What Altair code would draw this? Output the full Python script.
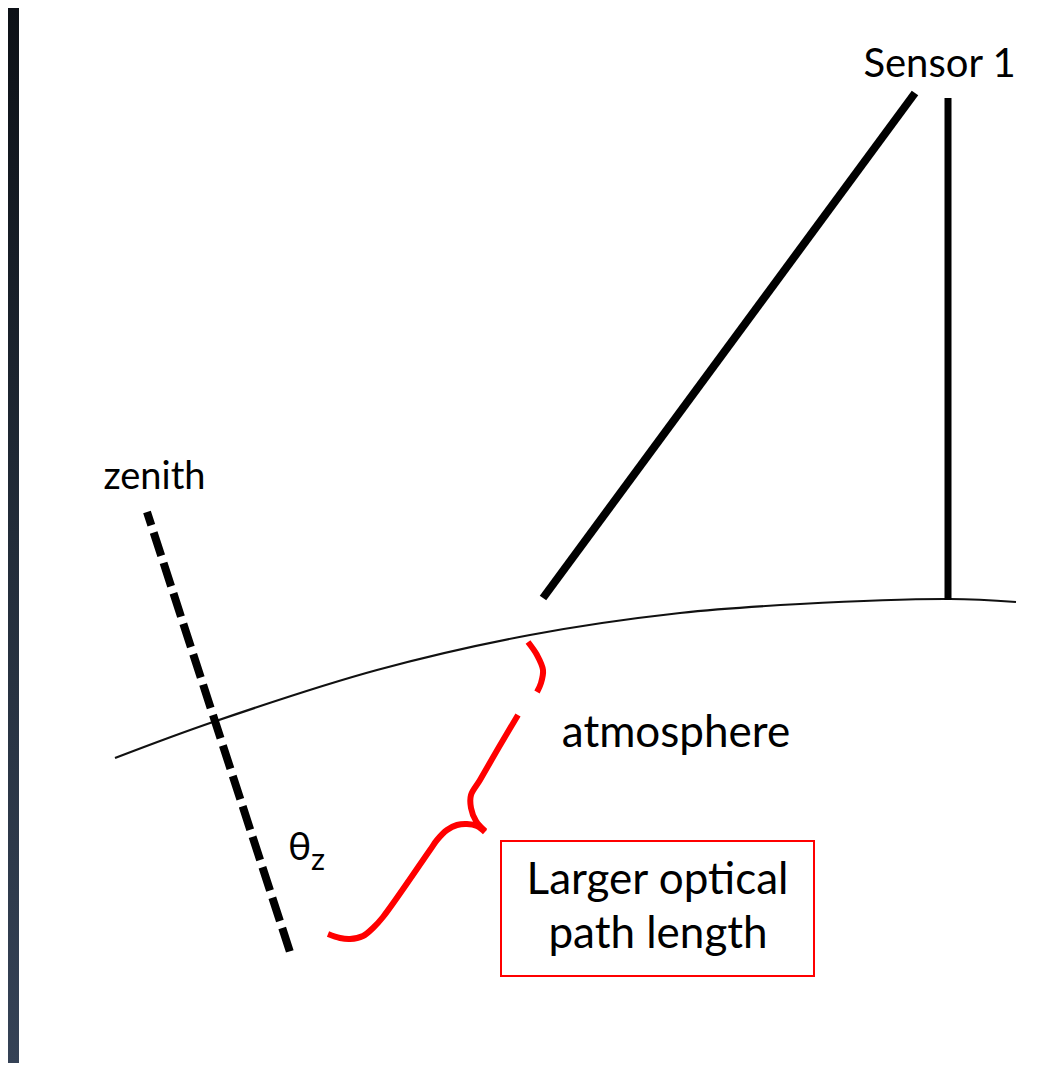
import altair as alt
import pandas as pd

# ---- canvas (reference pixel coordinates) ----
W, H = 1048, 1055
X_DOMAIN = [8, 1056]
Y_DOMAIN = [8, 1063]

# ---- ground / atmosphere boundary curve ----
earth_x = [115, 213, 377, 530, 680, 800, 950, 1016]
earth_y = [758, 722, 670, 635, 613, 604, 599, 602]

# ---- sensor view lines ----
sensor_x1 = [915, 948]
sensor_y1 = [93, 98]
sensor_x2 = [543, 948]
sensor_y2 = [598, 600]
sensor_w = [8, 7]

# ---- zenith dashed line ----
zen_x1, zen_y1, zen_x2, zen_y2 = [147], [512], [290], [952]

# ---- red brace (three strokes) ----
brace_seg = ["a"] * 5 + ["b"] * 7 + ["c"] * 13
brace_x = [528, 537, 543, 541, 537,
           518, 499, 480, 471, 471, 476, 485,
           485, 477, 467, 457, 447, 437, 430, 383, 373, 363, 350, 340, 328]
brace_y = [642, 655, 670, 683, 692,
           715, 747, 780, 795, 808, 821, 831,
           832, 826, 824, 825, 830, 840, 850, 917, 928, 936, 939, 938, 934]

# ---- red box ----
box_x1, box_y1, box_x2, box_y2 = [501], [841], [814], [976]

# ---- labels ----
lab_text = ["Sensor 1", "zenith", "atmosphere", "Larger optical", "path length"]
lab_x = [939.5, 154.5, 676, 657.5, 658]
lab_y = [77, 489, 747, 894, 948]
lab_size = [40, 38, 44, 44, 44]

sym_text = ["θ", "z"]
sym_x = [288, 311]
sym_y = [860, 870]
sym_size = [39, 31]

xs = alt.Scale(domain=X_DOMAIN, nice=False, zero=False)
ys = alt.Scale(domain=Y_DOMAIN, nice=False, zero=False, reverse=True)


def X(f):
    return alt.X(f"{f}:Q", scale=xs, axis=None)


def Y(f):
    return alt.Y(f"{f}:Q", scale=ys, axis=None)


# background strip
strip = alt.Chart(pd.DataFrame({"x": [8], "x2": [19], "y": [8], "y2": [1063]})).mark_rect(
    fill=alt.LinearGradient(
        gradient="linear",
        stops=[alt.GradientStop(color="#0d1117", offset=0),
               alt.GradientStop(color="#222c39", offset=0.5),
               alt.GradientStop(color="#354256", offset=1)],
        x1=0, x2=0, y1=0, y2=1),
    stroke=None,
).encode(x=X("x"), x2="x2", y=Y("y"), y2="y2")

earth = alt.Chart(pd.DataFrame({"x": earth_x, "y": earth_y})).mark_line(
    color="#111111", strokeWidth=2.2, interpolate="catmull-rom"
).encode(x=X("x"), y=Y("y"), order="x:Q")

sensors = alt.Chart(pd.DataFrame({"x": sensor_x1, "y": sensor_y1, "x2": sensor_x2,
                                  "y2": sensor_y2, "w": sensor_w})).mark_rule(
    color="black", strokeCap="butt"
).encode(x=X("x"), y=Y("y"), x2="x2", y2="y2", size=alt.Size("w:Q", scale=None, legend=None))

zenith = alt.Chart(pd.DataFrame({"x": zen_x1, "y": zen_y1, "x2": zen_x2, "y2": zen_y2})).mark_rule(
    color="black", strokeWidth=8, strokeDash=[24.5, 7.5], strokeDashOffset=10.5, strokeCap="butt"
).encode(x=X("x"), y=Y("y"), x2="x2", y2="y2")

brace_df = pd.DataFrame({"x": brace_x, "y": brace_y, "seg": brace_seg,
                         "i": list(range(len(brace_x)))})
brace = alt.Chart(brace_df).mark_line(
    color="#ff0000", strokeWidth=6, interpolate="catmull-rom", strokeCap="butt", strokeJoin="round"
).encode(x=X("x"), y=Y("y"), detail="seg:N", order="i:Q")

box = alt.Chart(pd.DataFrame({"x": box_x1, "y": box_y1, "x2": box_x2, "y2": box_y2})).mark_rect(
    fill="white", fillOpacity=0, stroke="#ff0000", strokeWidth=2
).encode(x=X("x"), y=Y("y"), x2="x2", y2="y2")

labels = alt.Chart(pd.DataFrame({"t": lab_text, "x": lab_x, "y": lab_y, "s": lab_size})).mark_text(
    font="Lato", color="black", align="center", baseline="alphabetic"
).encode(x=X("x"), y=Y("y"), text="t:N", size=alt.Size("s:Q", scale=None, legend=None))

symbols = alt.Chart(pd.DataFrame({"t": sym_text, "x": sym_x, "y": sym_y, "s": sym_size})).mark_text(
    font="Lato", color="black", align="left", baseline="alphabetic"
).encode(x=X("x"), y=Y("y"), text="t:N", size=alt.Size("s:Q", scale=None, legend=None))

chart = alt.layer(strip, earth, sensors, zenith, brace, box, labels, symbols).properties(
    width=W, height=H, padding=0, autosize=alt.AutoSizeParams(type="none"),
    background="white",
).configure_view(stroke=None)

chart.save("out.html", embed_options={"renderer": "svg", "actions": False})
